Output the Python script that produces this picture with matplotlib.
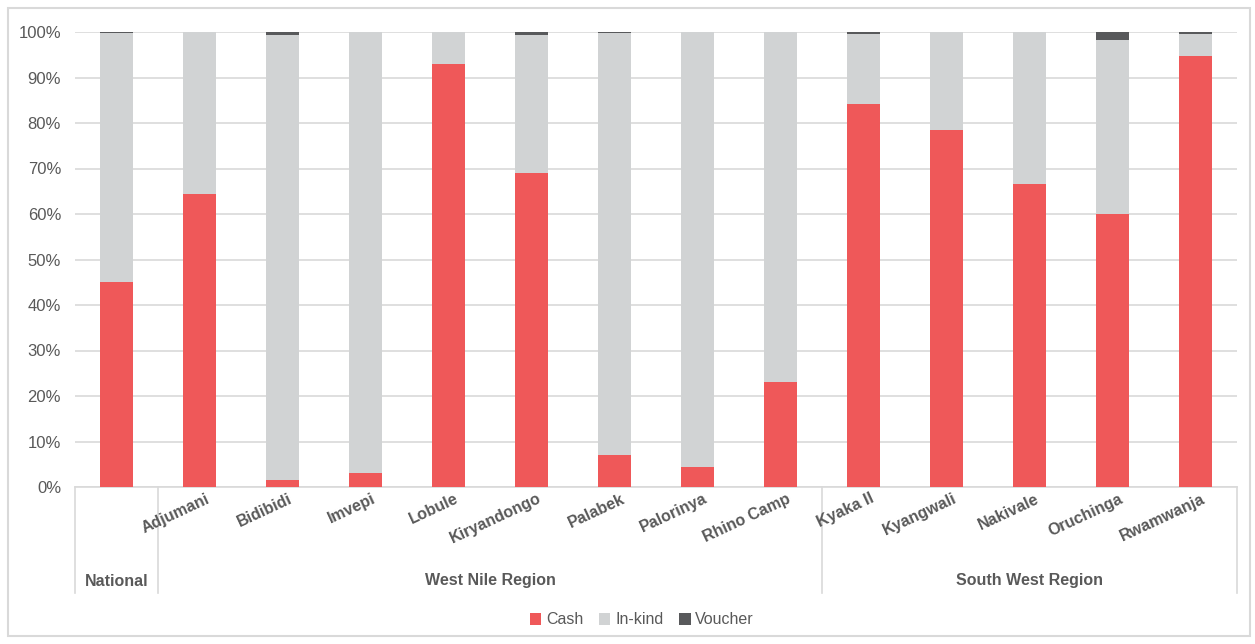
import matplotlib
matplotlib.use("Agg")
import matplotlib.pyplot as plt
from matplotlib.patches import Rectangle
from matplotlib.font_manager import fontManager
import matplotlib.transforms as mtransforms

names = {f.name for f in fontManager.ttflist}
FONT = "Liberation Sans Narrow" if "Liberation Sans Narrow" in names else "Liberation Sans"
plt.rcParams['font.family'] = [FONT, 'DejaVu Sans']

categories = ["National", "Adjumani", "Bidibidi", "Imvepi", "Lobule", "Kiryandongo",
              "Palabek", "Palorinya", "Rhino Camp", "Kyaka II", "Kyangwali",
              "Nakivale", "Oruchinga", "Rwamwanja"]
cash = [45.0, 64.5, 1.5, 3.0, 93.0, 69.0, 7.0, 4.3, 23.0, 84.2, 78.5, 66.5, 60.0, 94.8]
voucher = [0.3, 0.0, 0.7, 0.0, 0.0, 0.6, 0.3, 0.0, 0.0, 0.5, 0.0, 0.0, 1.8, 0.4]
inkind = [100 - c - v for c, v in zip(cash, voucher)]
groups = [("National", 0, 0), ("West Nile Region", 1, 8), ("South West Region", 9, 13)]
yticks = [0, 10, 20, 30, 40, 50, 60, 70, 80, 90, 100]

C_CASH = "#EF5859"
C_INK = "#D1D3D4"
C_VOU = "#58595B"
TXT = "#595959"
GRID = "#D9D9D9"

W, H = 1255, 644
fig = plt.figure(figsize=(W / 100, H / 100), dpi=100)
ax = fig.add_axes([75 / W, (H - 487) / H, (1237 - 75) / W, 455 / H])

x = list(range(len(categories)))
bw = 0.4
b1 = ax.bar(x, cash, bw, color=C_CASH, label="Cash", zorder=3)
b2 = ax.bar(x, inkind, bw, bottom=cash, color=C_INK, label="In-kind", zorder=3)
b3 = ax.bar(x, voucher, bw, bottom=[c + i for c, i in zip(cash, inkind)],
            color=C_VOU, label="Voucher", zorder=3)

ax.set_xlim(-0.5, len(categories) - 0.5)
ax.set_ylim(0, 100)
ax.set_yticks(yticks)
ax.set_yticklabels([f"{t}%" for t in yticks], fontsize=12, color=TXT)
ax.tick_params(axis='y', length=0, pad=10)
ax.tick_params(axis='x', length=0, labelbottom=False)
ax.yaxis.grid(True, color=GRID, linewidth=1.2, zorder=0)
for s in ["top", "right", "left"]:
    ax.spines[s].set_visible(False)
ax.spines["bottom"].set_color(GRID)
ax.spines["bottom"].set_linewidth(1.2)

trans = mtransforms.blended_transform_factory(ax.transData, ax.transAxes)
# category labels
offset = mtransforms.ScaledTranslation(6 / 100, -4 / 100, fig.dpi_scale_trans)
for i, name in enumerate(categories[1:], start=1):
    ax.text(i, 0, name, transform=trans + offset, rotation=25, rotation_mode='anchor',
            ha='right', va='top', fontsize=11.5, fontweight='bold', color=TXT)

# group separators and labels
ybot = -(593 - 487) / 455
for xs in [-0.5, 0.5, 8.5, 13.5]:
    ax.plot([xs, xs], [0, ybot], transform=trans, color=GRID, linewidth=1.2, clip_on=False)
ylab = -(581 - 487) / 455
for label, a, b in groups:
    ax.text((a + b) / 2, ylab, label, transform=trans, ha='center', va='center',
            fontsize=11.5, fontweight='bold', color=TXT)

leg = fig.legend(handles=[b1, b2, b3], labels=["Cash", "In-kind", "Voucher"],
                 loc='center', bbox_to_anchor=(642 / W, (H - 620) / H), ncol=3,
                 frameon=False, fontsize=11.5, handlelength=0.7, handleheight=0.7,
                 handletextpad=0.3, columnspacing=1.0)
for t in leg.get_texts():
    t.set_color(TXT)

fig.patches.append(Rectangle((8 / W, 8 / H), (1250 - 8) / W, (636 - 8) / H,
                             transform=fig.transFigure, fill=False,
                             edgecolor=GRID, linewidth=1.5))

fig.savefig("out.png", dpi=100)
